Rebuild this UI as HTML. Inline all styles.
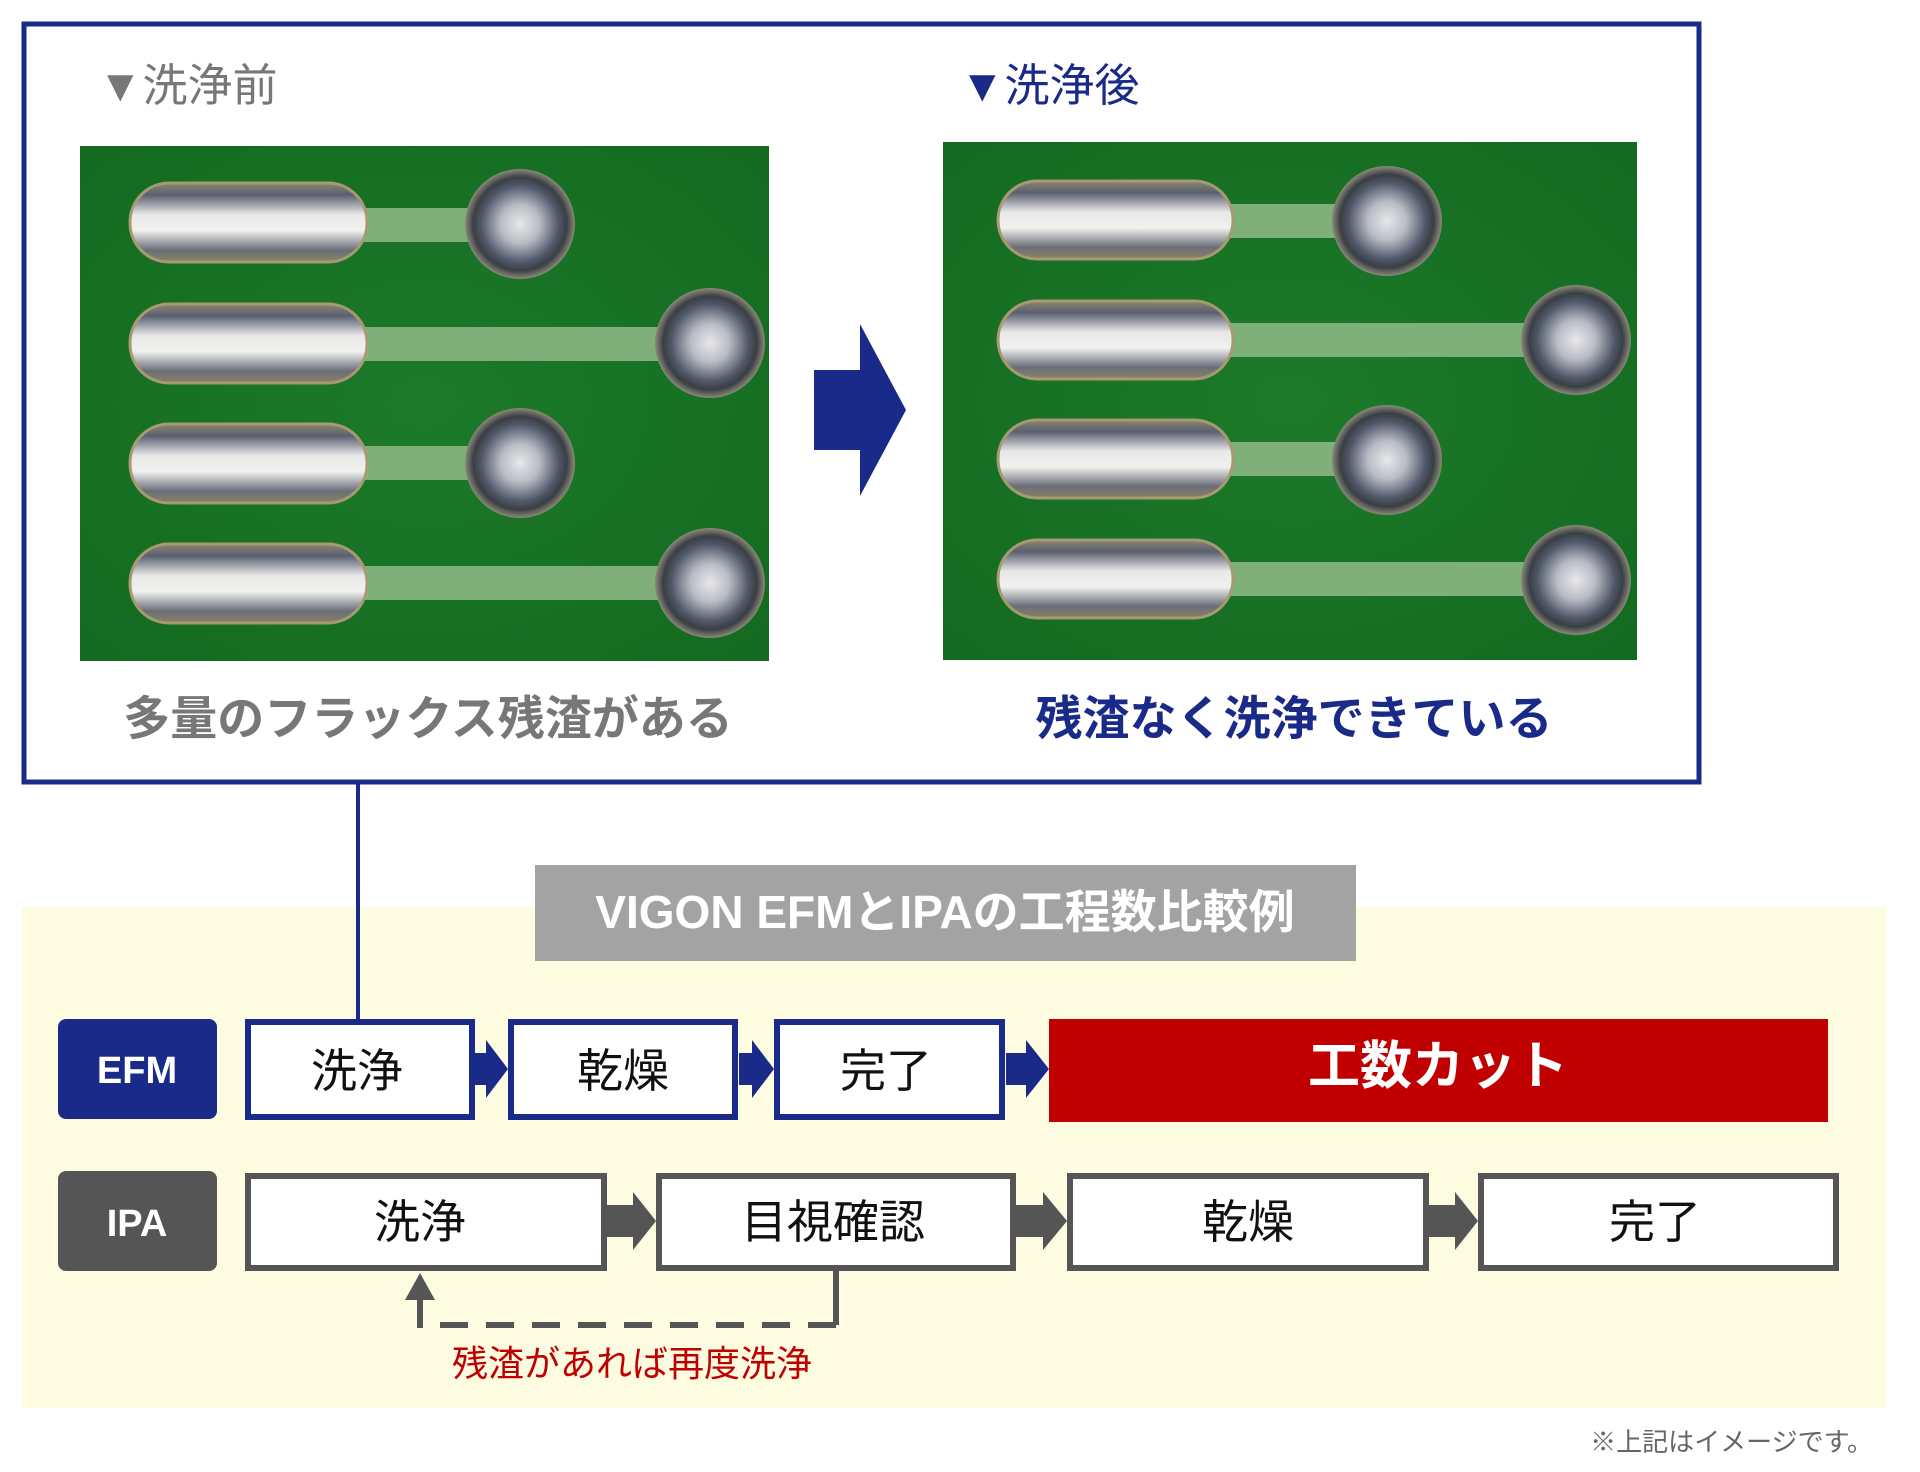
<!DOCTYPE html>
<html><head><meta charset="utf-8"><style>
html,body{margin:0;padding:0;background:#fff;}
svg{display:block;}
text{font-family:"Liberation Sans","Noto Sans CJK JP",sans-serif;}
</style></head><body>
<svg width="1920" height="1472" viewBox="0 0 1920 1472" xmlns="http://www.w3.org/2000/svg">
<defs>
<linearGradient id="pad" x1="0" y1="0" x2="0" y2="1">
<stop offset="0" stop-color="#8a8670"/><stop offset="0.15" stop-color="#5a6070"/><stop offset="0.4" stop-color="#e8e8e6"/><stop offset="0.6" stop-color="#f0f0ee"/><stop offset="0.85" stop-color="#6a6e78"/><stop offset="1" stop-color="#8a8266"/>
</linearGradient>
<radialGradient id="via" cx="0.5" cy="0.5" r="0.5">
<stop offset="0" stop-color="#e8e8ea"/><stop offset="0.35" stop-color="#b8bcc4"/><stop offset="0.7" stop-color="#50596a"/><stop offset="0.85" stop-color="#3a3e44"/><stop offset="1" stop-color="#8a8a78"/>
</radialGradient>
<radialGradient id="board" cx="0.5" cy="0.5" r="0.7">
<stop offset="0" stop-color="#1d7a2a"/><stop offset="1" stop-color="#136a20"/>
</radialGradient>
</defs>
<rect x="24" y="24" width="1675" height="758" fill="#fff" stroke="#1a2a88" stroke-width="5"/>
<text x="98" y="101" font-size="45" fill="#777">▼洗浄前</text>
<text x="960" y="101" font-size="45" fill="#1a2a88">▼洗浄後</text>
<rect x="80" y="146" width="689" height="515" fill="url(#board)"/>
<g>
<rect x="360" y="208" width="170" height="34" fill="#7fb07a"/>
<rect x="360" y="327" width="360" height="34" fill="#7fb07a"/>
<rect x="360" y="446" width="170" height="34" fill="#7fb07a"/>
<rect x="360" y="566" width="360" height="34" fill="#7fb07a"/>
<rect x="130" y="183" width="237" height="79" rx="39" fill="url(#pad)" stroke="#a89a70" stroke-width="3"/>
<rect x="130" y="304" width="237" height="79" rx="39" fill="url(#pad)" stroke="#a89a70" stroke-width="3"/>
<rect x="130" y="424" width="237" height="79" rx="39" fill="url(#pad)" stroke="#a89a70" stroke-width="3"/>
<rect x="130" y="544" width="237" height="79" rx="39" fill="url(#pad)" stroke="#a89a70" stroke-width="3"/>
<circle cx="520" cy="224" r="55" fill="url(#via)"/>
<circle cx="710" cy="343" r="55" fill="url(#via)"/>
<circle cx="520" cy="463" r="55" fill="url(#via)"/>
<circle cx="710" cy="583" r="55" fill="url(#via)"/>
</g>
<polygon points="814,370 860,370 860,324 906,410 860,496 860,450 814,450" fill="#1a2a88"/>
<rect x="943" y="142" width="694" height="518" fill="url(#board)"/>
<g>
<rect x="1225" y="204" width="170" height="34" fill="#7fb07a"/>
<rect x="1225" y="323" width="355" height="34" fill="#7fb07a"/>
<rect x="1225" y="442" width="170" height="34" fill="#7fb07a"/>
<rect x="1225" y="562" width="355" height="34" fill="#7fb07a"/>
<rect x="998" y="181" width="235" height="78" rx="39" fill="url(#pad)" stroke="#a89a70" stroke-width="3"/>
<rect x="998" y="301" width="235" height="78" rx="39" fill="url(#pad)" stroke="#a89a70" stroke-width="3"/>
<rect x="998" y="420" width="235" height="78" rx="39" fill="url(#pad)" stroke="#a89a70" stroke-width="3"/>
<rect x="998" y="540" width="235" height="78" rx="39" fill="url(#pad)" stroke="#a89a70" stroke-width="3"/>
<circle cx="1387" cy="221" r="55" fill="url(#via)"/>
<circle cx="1576" cy="340" r="55" fill="url(#via)"/>
<circle cx="1387" cy="460" r="55" fill="url(#via)"/>
<circle cx="1576" cy="580" r="55" fill="url(#via)"/>
</g>
<text x="428" y="735" font-size="47" font-weight="bold" fill="#777" text-anchor="middle">多量のフラックス残渣がある</text>
<text x="1294" y="735" font-size="47" font-weight="bold" fill="#1a2a88" text-anchor="middle">残渣なく洗浄できている</text>
<rect x="22" y="907" width="1864" height="501" fill="#fdfbe0"/>
<line x1="358" y1="784" x2="358" y2="1020" stroke="#1a2a88" stroke-width="4"/>
<rect x="535" y="865" width="821" height="96" fill="#a3a3a3"/>
<text x="945" y="928" font-size="46" font-weight="bold" fill="#fff" text-anchor="middle">VIGON EFMとIPAの工程数比較例</text>
<rect x="58" y="1019" width="159" height="100" rx="8" fill="#1a2a88"/>
<text x="137" y="1083" font-size="38" font-weight="bold" fill="#fff" text-anchor="middle">EFM</text>
<g fill="#1a2a88">
<rect x="473" y="1053" width="14" height="32"/><polygon points="486,1040 508,1069 486,1098"/>
<rect x="739" y="1053" width="14" height="32"/><polygon points="752,1040 774,1069 752,1098"/>
<rect x="1006" y="1053" width="22" height="32"/><polygon points="1026,1040 1049,1069 1026,1098"/>
</g>
<g fill="#fff" stroke="#1a2a88" stroke-width="6">
<rect x="248" y="1022" width="224" height="95"/>
<rect x="511" y="1022" width="224" height="95"/>
<rect x="777" y="1022" width="225" height="95"/>
</g>
<g font-size="46" text-anchor="middle" fill="#111">
<text x="357" y="1087">洗浄</text><text x="623" y="1087">乾燥</text><text x="886" y="1087">完了</text>
</g>
<rect x="1049" y="1019" width="779" height="103" fill="#c00000"/>
<text x="1438" y="1084" font-size="52" font-weight="bold" fill="#fff" text-anchor="middle">工数カット</text>
<rect x="58" y="1171" width="159" height="100" rx="8" fill="#555"/>
<text x="137" y="1236" font-size="38" font-weight="bold" fill="#fff" text-anchor="middle">IPA</text>
<g fill="#555">
<rect x="607" y="1205" width="28" height="32"/><polygon points="633,1192 656,1221 633,1250"/>
<rect x="1016" y="1205" width="28" height="32"/><polygon points="1043,1192 1067,1221 1043,1250"/>
<rect x="1429" y="1205" width="28" height="32"/><polygon points="1455,1192 1478,1221 1455,1250"/>
</g>
<g fill="#fff" stroke="#555" stroke-width="6">
<rect x="248" y="1176" width="356" height="92"/>
<rect x="659" y="1176" width="354" height="92"/>
<rect x="1070" y="1176" width="356" height="92"/>
<rect x="1481" y="1176" width="355" height="92"/>
</g>
<g font-size="46" text-anchor="middle" fill="#111">
<text x="420" y="1238">洗浄</text><text x="833" y="1238">目視確認</text><text x="1248" y="1238">乾燥</text><text x="1655" y="1238">完了</text>
</g>
<line x1="836" y1="1271" x2="836" y2="1325" stroke="#555" stroke-width="6"/>
<line x1="836" y1="1325" x2="420" y2="1325" stroke="#555" stroke-width="6" stroke-dasharray="28,18"/>
<line x1="420" y1="1328" x2="420" y2="1295" stroke="#555" stroke-width="6"/>
<polygon points="420,1273 405,1300 435,1300" fill="#555"/>
<text x="632" y="1376" font-size="36" fill="#c00000" text-anchor="middle">残渣があれば再度洗浄</text>
<text x="1873" y="1451" font-size="26" fill="#666" text-anchor="end">※上記はイメージです。</text>
</svg>
</body></html>
